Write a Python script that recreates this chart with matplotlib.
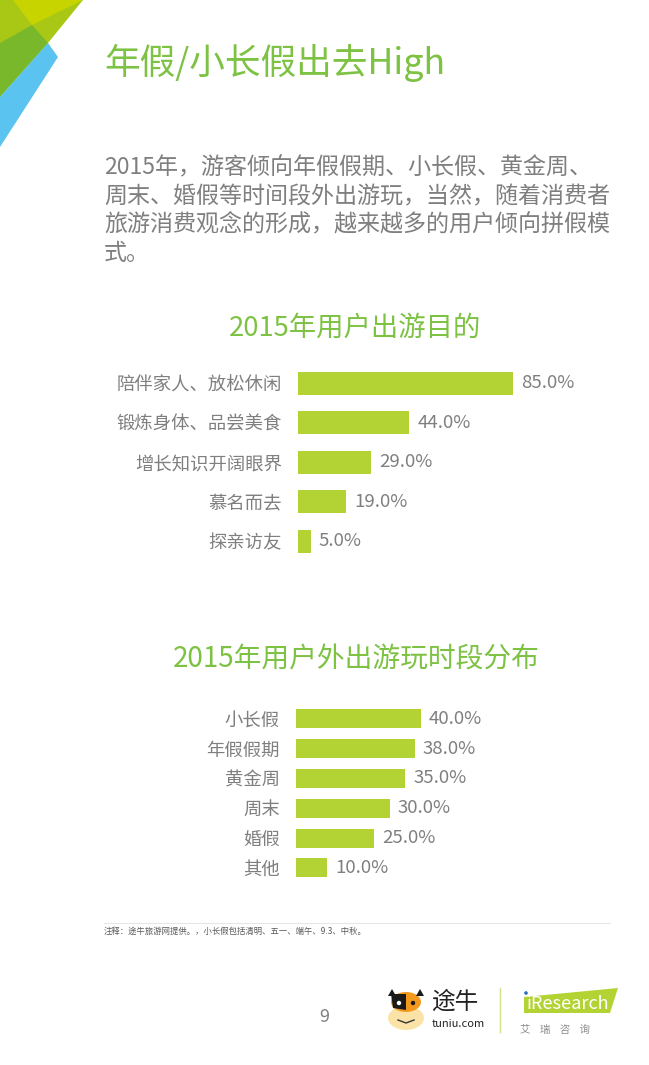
import matplotlib
matplotlib.use('Agg')
import matplotlib.pyplot as plt
from matplotlib.patches import Polygon, Ellipse, Circle

plt.rcParams['font.family'] = ['Noto Sans CJK SC', 'DejaVu Sans']

# data
page_title = '年假/小长假出去High'
body_lines = ['2015年，游客倾向年假假期、小长假、黄金周、',
              '周末、婚假等时间段外出游玩，当然，随着消费者',
              '旅游消费观念的形成，越来越多的用户倾向拼假模',
              '式。']
title1 = '2015年用户出游目的'
purposes = ['陪伴家人、放松休闲', '锻炼身体、品尝美食', '增长知识开阔眼界', '慕名而去', '探亲访友']
purpose_pct = [85.0, 44.0, 29.0, 19.0, 5.0]
title2 = '2015年用户外出游玩时段分布'
periods = ['小长假', '年假假期', '黄金周', '周末', '婚假', '其他']
period_pct = [40.0, 38.0, 35.0, 30.0, 25.0, 10.0]
note = '注释：途牛旅游网提供。，小长假包括清明、五一、端午、9.3、中秋。'

GREEN = '#7dc242'
BAR = '#b3d335'
GRAY = '#7f7f7f'

W, H = 649, 1065
fig = plt.figure(figsize=(W / 100, H / 100), dpi=100)

# page canvas in pixel coords
bg = fig.add_axes([0, 0, 1, 1])
bg.set_xlim(0, W)
bg.set_ylim(H, 0)
bg.axis('off')

# corner decoration
bg.add_patch(Polygon([(0, 0), (83, 0), (48, 43), (0, 97)], color='#a8c815', lw=0))
bg.add_patch(Polygon([(0, 43), (32, 25), (48, 43), (0, 97)], color='#78b82a', lw=0))
bg.add_patch(Polygon([(13, 0), (83, 0), (32, 25)], color='#c8d400', lw=0))
bg.add_patch(Polygon([(48, 43), (58, 57), (0, 147), (0, 97)], color='#5bc3ef', lw=0))

bg.text(104, 63, page_title, fontsize=25.7, color=GREEN, va='center', ha='left')
for i, line in enumerate(body_lines):
    bg.text(104, 168 + i * 28.5, line, fontsize=16.6, color=GRAY, va='center', ha='left')

bg.text(355, 328, title1, fontsize=19.7, color=GREEN, ha='center', va='center')
bg.text(356, 660, title2, fontsize=20.0, color=GREEN, ha='center', va='center')

bg.plot([104, 610], [923, 923], color='#e6e6e6', lw=0.8)
bg.text(104, 931, note, fontsize=6, color='#595959', va='center', ha='left')

# footer
bg.text(324, 1017, '9', fontsize=13, color=GRAY, ha='center', va='center')
bg.add_patch(Ellipse((406, 1018), 36, 24, color='#fbe3a8', lw=0))
bg.add_patch(Ellipse((406, 1002), 30, 20, color='#f39a1e', lw=0))
bg.add_patch(Polygon([(391, 994), (406, 994), (406, 1010), (393, 1008)], color='#1a1a1a', lw=0))
bg.add_patch(Polygon([(388, 996), (392, 989), (396, 996)], color='#1a1a1a', lw=0))
bg.add_patch(Polygon([(416, 996), (420, 989), (424, 996)], color='#1a1a1a', lw=0))
bg.add_patch(Circle((399, 1003), 2.2, color='white', lw=0))
bg.add_patch(Circle((413, 1003), 2.2, color='#1a1a1a', lw=0))
bg.plot([398, 406, 414], [1020, 1023, 1020], color='#333333', lw=1)
bg.text(431, 1002, '途牛', fontsize=17, color='#222222', va='center', ha='left')
bg.text(432, 1024, 'tuniu.com', fontsize=8, color='#222222', va='center', ha='left')
bg.plot([500, 500], [988, 1032], color='#cde28a', lw=1)
bg.add_patch(Polygon([(524, 997), (618, 988), (610, 1013), (524, 1013)], color='#b3d335', lw=0))
bg.text(527, 1004, 'iResearch', fontsize=13, color='white', va='center', ha='left')
bg.add_patch(Circle((526, 993), 1.8, color='#2f6fb8', lw=0))
bg.text(520, 1030, '艾    瑞    咨    询', fontsize=7.5, color='#8c8c8c', va='center', ha='left')


def bar_panel(top_px, slot_px, left_px, px_per_pct, cats, vals, bar_frac):
    n = len(cats)
    span = 100 * px_per_pct
    ax = fig.add_axes([left_px / W, 1 - (top_px + n * slot_px) / H,
                       span / W, n * slot_px / H])
    ypos = list(range(n))
    ax.barh(ypos, vals, height=bar_frac, color=BAR, edgecolor='none')
    ax.set_xlim(0, 100)
    ax.set_ylim(n - 0.5, -0.5)
    ax.set_yticks(ypos)
    ax.set_yticklabels(cats, fontsize=13.2, color=GRAY)
    ax.tick_params(axis='y', length=0, pad=11.5)
    ax.set_xticks([])
    for s in ax.spines.values():
        s.set_visible(False)
    ax.patch.set_alpha(0)
    for y, v in zip(ypos, vals):
        ax.text(v + 8 / px_per_pct, y, f'{v:.1f}%', fontsize=13.4, color=GRAY,
                va='center', ha='left')
    return ax


bar_panel(363.5, 39.5, 298, 2.53, purposes, purpose_pct, 0.58)
bar_panel(704, 29.8, 296, 3.125, periods, period_pct, 0.64)

fig.savefig('out.png', dpi=100)
